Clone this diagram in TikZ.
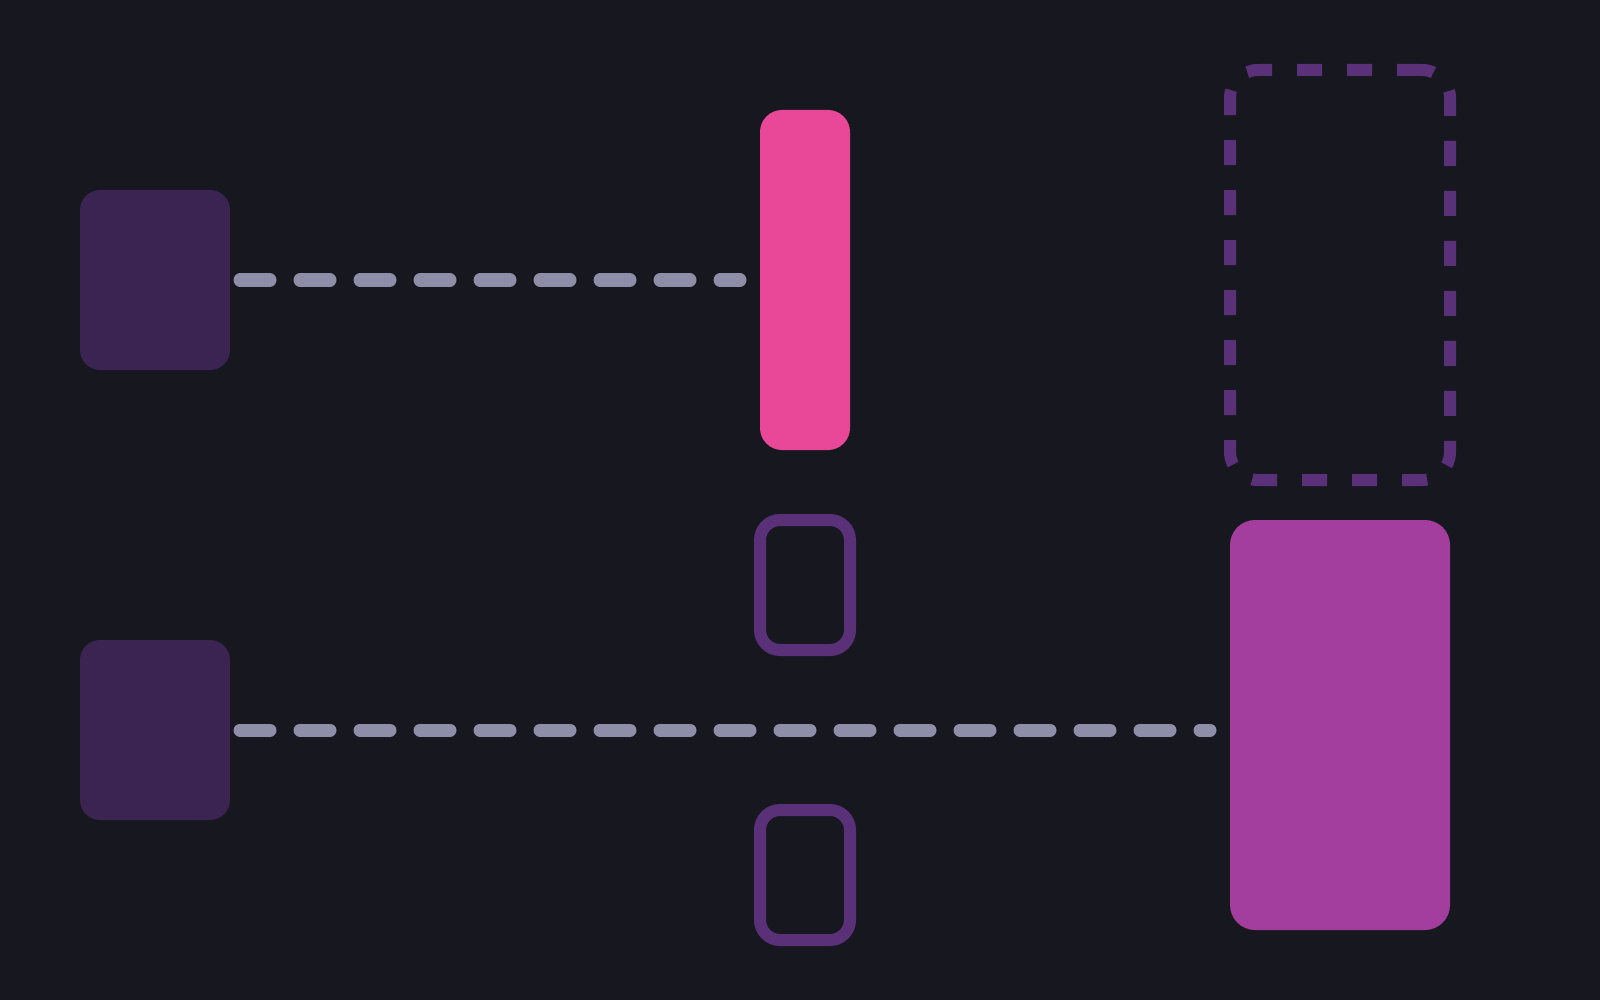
\documentclass[tikz,border=0pt]{standalone}
\begin{document}
\begin{tikzpicture}[x=1pt,y=-1pt,
  every node/.style={inner sep=0pt,outer sep=0pt},
  darkbox/.style={rectangle,rounded corners=20pt,fill=boxdark,minimum width=150pt,minimum height=180pt},
  pinkbox/.style={rectangle,rounded corners=22pt,fill=pinkc,minimum width=90pt,minimum height=340pt},
  magbox/.style={rectangle,rounded corners=25pt,fill=magc,minimum width=220pt,minimum height=410pt},
  dashbox/.style={rectangle,rounded corners=28pt,draw=outl,line width=12pt,dash pattern=on 25pt off 25pt,minimum width=220pt,minimum height=410pt},
  smallbox/.style={rectangle,rounded corners=20pt,draw=outl,line width=12pt,minimum width=90pt,minimum height=130pt},
  conn/.style={draw=conng,line width=13pt,line cap=round,dash pattern=on 30pt off 30pt,shorten <=10pt,shorten >=20pt}]
\definecolor{bg}{HTML}{17171F}
\definecolor{boxdark}{HTML}{3B2452}
\definecolor{pinkc}{HTML}{E94898}
\definecolor{magc}{HTML}{A33E9E}
\definecolor{outl}{HTML}{5A3078}
\definecolor{conng}{HTML}{8E8EA8}
\fill[bg] (0,0) rectangle (1600,1000);
\useasboundingbox (0,0) rectangle (1600,1000);
\node[darkbox] (a1) at (155,280) {};
\node[darkbox] (a2) at (155,730) {};
\node[pinkbox] (p) at (805,280) {};
\node[smallbox] (s1) at (805,585) {};
\node[smallbox] (s2) at (805,875) {};
\node[dashbox] (d) at (1340,275) {};
\node[magbox] (m) at (1340,725) {};
\draw[conn] (a1.east) -- (p.west);
\draw[conn] (a2.east) -- (a2.east -| m.west);
\end{tikzpicture}
\end{document}
